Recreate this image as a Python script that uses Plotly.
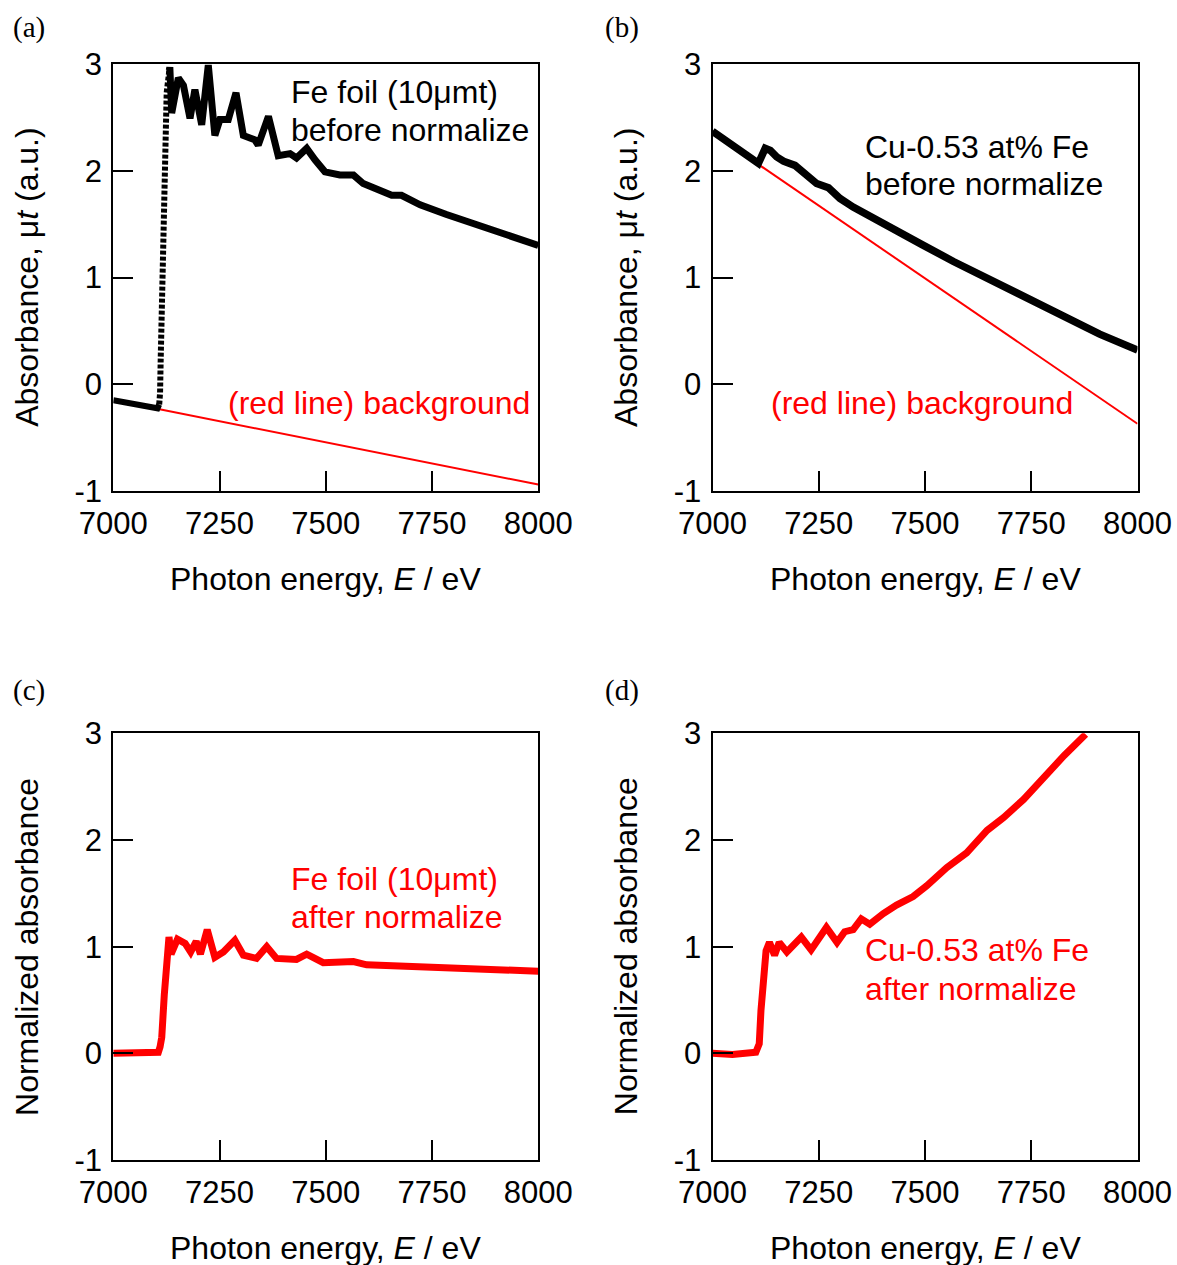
import plotly.graph_objects as go

W, H = 1177, 1265

# ---------------- data ----------------
# (a) Fe foil (10 um) before normalize
fe_pre_x = [7000, 7020, 7040, 7060, 7080, 7095, 7104, 7108]
fe_pre_y = [-0.15, -0.165, -0.18, -0.195, -0.21, -0.225, -0.225, -0.19]
fe_edge_x = [7108, 7110, 7111.5, 7113, 7115.3, 7116.9, 7117.6, 7119.3, 7121.6, 7125.6, 7131.8]
fe_edge_y = [-0.19, -0.085, 0.23, 0.54, 0.85, 1.01, 1.32, 1.79, 2.26, 2.73, 2.94]
fe_post_x = [7131.8, 7133, 7137.4, 7145, 7153, 7165, 7180.5, 7192, 7208, 7223.5, 7239,
             7251, 7270.6, 7288.7, 7306, 7320, 7333, 7341, 7365, 7388, 7416, 7431, 7455,
             7475, 7498, 7533, 7565, 7588, 7620, 7655, 7678, 7722, 7784, 7839, 7894, 7950, 8000]
fe_post_y = [2.94, 2.97, 2.54, 2.75, 2.87, 2.8, 2.49, 2.76, 2.43, 2.99, 2.33,
             2.48, 2.48, 2.73, 2.33, 2.31, 2.29, 2.24, 2.51, 2.14, 2.16, 2.12, 2.21,
             2.1, 1.99, 1.96, 1.96, 1.88, 1.83, 1.77, 1.77, 1.68, 1.59, 1.52, 1.45, 1.37, 1.30]
fe_bg_x = [7103, 8000]
fe_bg_y = [-0.23, -0.94]

# (b) Cu-0.53 at% Fe before normalize
cu_x = [7000, 7050, 7085, 7108, 7124, 7136, 7151, 7167, 7194, 7222, 7245, 7273, 7300,
        7331, 7371, 7425, 7492, 7567, 7653, 7747, 7833, 7911, 8000]
cu_y = [2.37, 2.24, 2.15, 2.07, 2.21, 2.19, 2.13, 2.09, 2.05, 1.96, 1.88, 1.84, 1.74,
        1.66, 1.57, 1.46, 1.31, 1.15, 0.98, 0.79, 0.62, 0.47, 0.32]
cu_bg_x = [7108, 8000]
cu_bg_y = [2.06, -0.37]

# (c) Fe foil after normalize
fen_x = [7000, 7050, 7100, 7106, 7110, 7114, 7120, 7125, 7131, 7136, 7151, 7169, 7182,
         7195, 7205, 7221, 7239, 7259, 7286, 7306, 7337, 7361, 7384, 7431, 7455, 7494,
         7565, 7596, 7714, 7831, 8000]
fen_y = [0.0, 0.0, 0.0, 0.01, 0.06, 0.15, 0.55, 0.93, 1.09, 0.93, 1.07, 1.03, 0.95,
         1.05, 0.93, 1.16, 0.9, 0.95, 1.06, 0.92, 0.89, 1.0, 0.89, 0.88, 0.93, 0.85,
         0.86, 0.83, 0.81, 0.79, 0.77]

# (d) Cu-0.53 at% Fe after normalize
cun_x = [7000, 7047, 7102, 7110, 7114, 7126, 7134, 7146, 7157, 7175, 7209, 7232, 7268,
         7293, 7311, 7331, 7350, 7370, 7402, 7433, 7472, 7504, 7551, 7598, 7646, 7685,
         7732, 7780, 7827, 7878]
cun_y = [0.0, -0.01, 0.01, 0.09, 0.4, 0.96, 1.04, 0.92, 1.04, 0.95, 1.09, 0.97, 1.18,
         1.04, 1.14, 1.16, 1.26, 1.21, 1.31, 1.39, 1.47, 1.57, 1.74, 1.88, 2.09, 2.21,
         2.38, 2.59, 2.79, 2.99]

x_ticks = [7000, 7250, 7500, 7750, 8000]
x_ticktext = ["7000", "7250", "7500", "7750", "8000"]
y_ticks = [-1, 0, 1, 2, 3]
y_ticktext = ["-1", "0", "1", "2", "3"]

# ---------------- layout helpers ----------------
SANS = "Liberation Sans, Arial, sans-serif"
SERIF = "Liberation Serif, Times New Roman, serif"
FS = 32
TFS = 31

def px_x(v):
    return v / W

def px_y(v):
    return 1 - v / H

panels = {
    "a": dict(x0=113.3, x1=538.3, y0=64, y1=491),
    "b": dict(x0=712.5, x1=1137.5, y0=64, y1=491),
    "c": dict(x0=113.3, x1=538.3, y0=733.3, y1=1160),
    "d": dict(x0=712.5, x1=1137.5, y0=733.3, y1=1160),
}

fig = go.Figure()

def add(xs, ys, axis, color, width, dash="solid"):
    fig.add_trace(go.Scatter(x=xs, y=ys, mode="lines", xaxis="x" + axis, yaxis="y" + axis,
                             line=dict(color=color, width=width, dash=dash),
                             showlegend=False, hoverinfo="skip"))

# panel a
add(fe_bg_x, fe_bg_y, "", "#ff0000", 2)
add(fe_pre_x, fe_pre_y, "", "black", 6)
add(fe_edge_x, fe_edge_y, "", "black", 6, dash="4px,2px")
add(fe_post_x, fe_post_y, "", "black", 7)
# panel b
add(cu_bg_x, cu_bg_y, "2", "#ff0000", 2)
add(cu_x, cu_y, "2", "black", 7.5)
# panel c
add(fen_x, fen_y, "3", "#ff0000", 7)
# panel d
add(cun_x, cun_y, "4", "#ff0000", 7)

axis_common = dict(showline=True, linewidth=2, linecolor="black", mirror=True,
                   ticks="inside", ticklen=20, tickwidth=2, tickcolor="black",
                   showgrid=False, zeroline=False, automargin=False,
                   tickfont=dict(family=SANS, size=TFS, color="black"))

layout = dict(width=W, height=H, margin=dict(l=0, r=0, t=0, b=0, pad=0),
              paper_bgcolor="white", plot_bgcolor="white", showlegend=False)

for i, key in enumerate(["a", "b", "c", "d"]):
    p = panels[key]
    sfx = "" if i == 0 else str(i + 1)
    layout["xaxis" + sfx] = dict(axis_common, domain=[px_x(p["x0"]), px_x(p["x1"])],
                                 range=[7000, 8000], tickvals=x_ticks, ticktext=x_ticktext,
                                 anchor="y" + sfx, ticklabelstandoff=4)
    layout["yaxis" + sfx] = dict(axis_common, domain=[px_y(p["y1"]), px_y(p["y0"])],
                                 range=[-1, 3], tickvals=y_ticks, ticktext=y_ticktext,
                                 anchor="x" + sfx, ticklabelstandoff=3)

fig.update_layout(**layout)

ann = []

def text(x, y, s, color="black", size=FS, family=SANS, angle=0, xanchor="left"):
    ann.append(dict(x=px_x(x), y=px_y(y), xref="paper", yref="paper", text=s,
                    showarrow=False, xanchor=xanchor, yanchor="middle", textangle=angle,
                    font=dict(family=family, size=size, color=color)))

# panel labels
for lab, (x, y) in {"(a)": (11, 28), "(b)": (603, 28), "(c)": (11, 690), "(d)": (603, 690)}.items():
    text(x, y, lab, family=SERIF, size=29)

# axis titles
for key in ["a", "b", "c", "d"]:
    p = panels[key]
    cx = (p["x0"] + p["x1"]) / 2
    text(cx, p["y1"] + 88, "Photon energy, <i>E</i> / eV", xanchor="center")
    cy = (p["y0"] + p["y1"]) / 2
    ytitle = "Absorbance, μ<i>t</i> (a.u.)" if key in ("a", "b") else "Normalized absorbance"
    text(p["x0"] - 87, cy, ytitle, angle=-90, xanchor="center")

# in-plot labels
text(289, 92, "Fe foil (10μmt)")
text(289, 130, "before normalize")
text(226, 403, "(red line) background", color="#ff0000")
text(863, 147, "Cu-0.53 at% Fe")
text(863, 184, "before normalize")
text(769, 403, "(red line) background", color="#ff0000")
text(289, 879, "Fe foil (10μmt)", color="#ff0000")
text(289, 917, "after normalize", color="#ff0000")
text(863, 950, "Cu-0.53 at% Fe", color="#ff0000")
text(863, 989, "after normalize", color="#ff0000")

fig.update_layout(annotations=ann)
fig.write_html("out.html")
